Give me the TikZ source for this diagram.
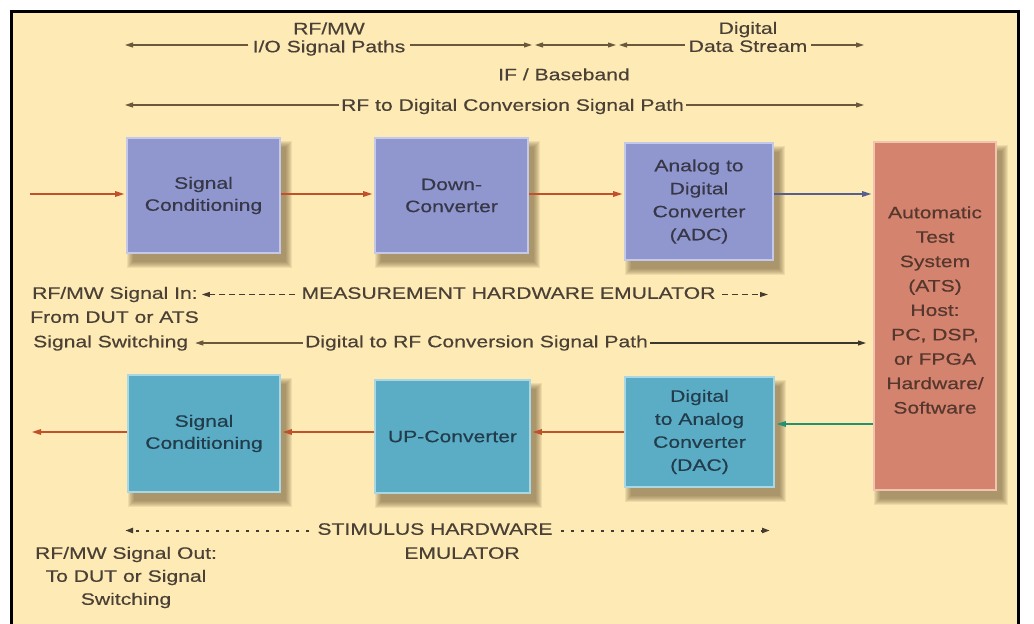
\documentclass[tikz,border=0pt]{standalone}
\usepackage{fontspec}
\setmainfont{Liberation Sans}[FakeStretch=1.28,FakeBold=0.4]
\usetikzlibrary{arrows.meta}
\definecolor{bgyel}{RGB}{253,234,180}
\definecolor{topblue}{RGB}{143,151,206}
\definecolor{topedge}{RGB}{196,201,234}
\definecolor{botteal}{RGB}{90,173,197}
\definecolor{botedge}{RGB}{170,215,228}
\definecolor{atsred}{RGB}{212,131,110}
\definecolor{atsedge}{RGB}{242,196,176}
\definecolor{sigred}{RGB}{192,81,43}
\definecolor{slate}{RGB}{86,96,142}
\definecolor{tealgr}{RGB}{35,144,111}
\definecolor{lblcol}{RGB}{105,88,60}
\definecolor{dashcol}{RGB}{70,60,48}
\definecolor{darkline}{RGB}{60,55,45}
\definecolor{txt}{RGB}{74,64,54}
\definecolor{boxtxt}{RGB}{55,55,72}
\definecolor{boxtxtb}{RGB}{35,60,75}
\definecolor{atstxt}{RGB}{85,55,45}
\definecolor{shadecol}{RGB}{100,80,45}
\pgfdeclarelayer{bglayer}
\pgfdeclarelayer{shadelayer}
\pgfsetlayers{bglayer,shadelayer,main}
\newcommand\boxshade[1]{%
  \foreach \r in {0,1,2,3,4,5,6}{%
    \fill[shadecol,opacity=0.1] ([shift={(7-\r,10-\r)}]#1.north west) rectangle ([shift={(5+\r,8+\r)}]#1.south east);
  }}
\begin{document}
\begin{tikzpicture}[x=1pt,y=-1pt,
  every node/.style={font=\fontsize{16.5}{22}\selectfont, text=txt, inner sep=0pt},
  blk/.style={rectangle, align=center, line width=1.6pt},
  topblk/.style={blk, fill=topblue, draw=topedge, text=boxtxt},
  botblk/.style={blk, fill=botteal, draw=botedge, text=boxtxtb},
  atsblk/.style={blk, fill=atsred, draw=atsedge},
  lbl/.style={inner xsep=4pt, text height=12pt, text depth=3.5pt},
  mlbl/.style={align=center, inner xsep=4pt},
  sig/.style={draw=sigred, line width=1.3pt, shorten >=2pt, -{Triangle[length=9pt,width=5.5pt]}},
  sigblue/.style={sig, draw=slate},
  siggreen/.style={sig, draw=tealgr},
  lblline/.style={draw=lblcol, line width=1.1pt, -{Triangle[length=8pt,width=5pt]}},
  dashline/.style={lblline, draw=dashcol, dash pattern=on 6pt off 4pt},
  dotline/.style={lblline, draw=dashcol, line width=2pt, dash pattern=on 3pt off 7pt},
]
\useasboundingbox (0,0) rectangle (1034,624);
\begin{pgfonlayer}{bglayer}
\fill[white] (0,0) rectangle (1034,624);
\fill[bgyel] (11,11) rectangle (1018,630);
\draw[line width=3pt] (11,640) -- (11,11) -- (1018,11) -- (1018,640);
\end{pgfonlayer}

% blocks
\node[topblk, minimum width=153pt, minimum height=115pt] (sc1) at (203.5,195.5) {Signal\\Conditioning};
\node[topblk, minimum width=153pt, minimum height=115pt] (dc) at (451.5,195.5) {Down-\\Converter};
\node[topblk, minimum width=148pt, minimum height=117pt, font=\fontsize{16.5}{23}\selectfont] (adc) at (699,201.5) {Analog to\\Digital\\Converter\\(ADC)};
\node[atsblk, minimum width=122pt, minimum height=348pt,
  label={[align=center, font=\fontsize{16.5}{24.4}\selectfont, text=atstxt, yshift=6pt]center:{Automatic\\Test\\System\\(ATS)\\Host:\\PC, DSP,\\or FPGA\\Hardware/\\Software}}] (ats) at (935,316) {};
\node[botblk, minimum width=152pt, minimum height=117pt] (sc2) at (204,433.5) {Signal\\Conditioning};
\node[botblk, minimum width=155pt, minimum height=113pt] (up) at (452.5,436.5) {UP-Converter};
\node[botblk, minimum width=149pt, minimum height=110pt, font=\fontsize{16.5}{23}\selectfont] (dac) at (699.5,432) {Digital\\to Analog\\Converter\\(DAC)};

\begin{pgfonlayer}{shadelayer}
\foreach \n in {sc1,dc,adc,ats,sc2,up,dac} {\boxshade{\n}}
\end{pgfonlayer}

% signal connectors
\coordinate (rowA) at (0,194);
\coordinate (rowB) at (0,432);
\coordinate (rowG) at (0,424);
\coordinate (inL) at (30,194);
\coordinate (outL) at (30,432);
\draw[sig] (inL) -- (sc1.west |- rowA);
\draw[sig] (sc1.east |- rowA) -- (dc.west |- rowA);
\draw[sig] (dc.east |- rowA) -- (adc.west |- rowA);
\draw[sigblue] (adc.east |- rowA) -- (ats.west |- rowA);
\draw[siggreen] (ats.west |- rowG) -- (dac.east |- rowG);
\draw[sig] (dac.west |- rowB) -- (up.east |- rowB);
\draw[sig] (up.west |- rowB) -- (sc2.east |- rowB);
\draw[sig] (sc2.west |- rowB) -- (outL);

% top labels
\node[mlbl, font=\fontsize{16.5}{18}\selectfont] (rfmw) at (329,39) {RF/MW\\I/O Signal Paths};
\node[mlbl, font=\fontsize{16.5}{18}\selectfont] (digds) at (748,37) {Digital\\Data Stream};
\node[lbl] (ifbb) at (564,76) {IF / Baseband};
\node[lbl, inner xsep=2pt] (rf2d) at (512.5,106.5) {RF to Digital Conversion Signal Path};
\coordinate (t1) at (125,45);
\coordinate (t2) at (532,45);
\coordinate (t3) at (535,45);
\coordinate (t4) at (616,45);
\coordinate (t5) at (619,45);
\coordinate (t6) at (864,45);
\coordinate (r1) at (125,105);
\coordinate (r2) at (864,105);
\draw[lblline] (rfmw.west |- t1) -- (t1);
\draw[lblline] (rfmw.east |- t1) -- (t2);
\draw[lblline, {Triangle[length=8pt,width=5pt]}-{Triangle[length=8pt,width=5pt]}] (t3) -- (t4);
\draw[lblline] (digds.west |- t1) -- (t5);
\draw[lblline] (digds.east |- t1) -- (t6);
\draw[lblline] (rf2d.west |- r1) -- (r1);
\draw[lblline] (rf2d.east |- r2) -- (r2);

% middle labels
\node[lbl, anchor=west] (sigin) at (28,294.5) {RF/MW Signal In:};
\node[lbl, inner xsep=6pt] (meas) at (508.5,294.5) {MEASUREMENT HARDWARE EMULATOR};
\coordinate (m2) at (768,294.5);
\draw[dashline] (meas.west) -- (sigin.east);
\draw[dashline] (meas.east) -- (m2);
\node[lbl, anchor=west] (fromdut) at (26,318.5) {From DUT or ATS};
\node[lbl, anchor=west] (sigsw) at (29,343) {Signal Switching};
\node[lbl, inner xsep=2pt] (d2rf) at (476.5,343) {Digital to RF Conversion Signal Path};
\coordinate (d2) at (866,343);
\draw[lblline, shorten >=3pt] (d2rf.west) -- (sigsw.east);
\draw[lblline, draw=darkline] (d2rf.east) -- (d2);

% bottom labels
\node[lbl, inner xsep=8pt] (stim) at (435,530.5) {STIMULUS HARDWARE};
\node[lbl] (emu) at (462,554.5) {EMULATOR};
\coordinate (s1) at (125,530.5);
\coordinate (s2) at (770,530.5);
\draw[dotline] (stim.west) -- (s1);
\draw[dotline] (stim.east) -- (s2);
\node[mlbl, font=\fontsize{16.5}{23}\selectfont] (sigout) at (126,577.5) {RF/MW Signal Out:\\To DUT or Signal\\Switching};
\end{tikzpicture}
\end{document}
